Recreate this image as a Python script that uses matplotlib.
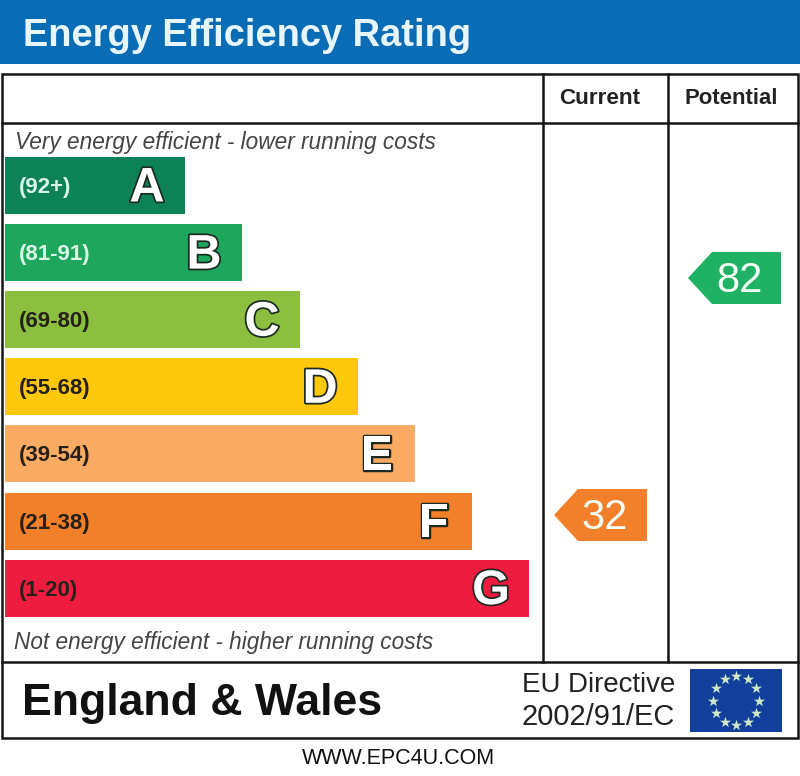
import numpy as np
import matplotlib
matplotlib.use("Agg")
import matplotlib.pyplot as plt
from matplotlib.patches import Polygon, Rectangle
import matplotlib.patheffects as pe

TITLE = "Energy Efficiency Rating"
BANDS = ["A", "B", "C", "D", "E", "F", "G"]
RANGES = ["(92+)", "(81-91)", "(69-80)", "(55-68)", "(39-54)", "(21-38)", "(1-20)"]
BAR_LENGTHS = [180, 237, 295, 353, 410, 467, 524]
BAR_COLORS = ["#0d8257", "#1da65c", "#8cbf3f", "#fdc70c", "#f9ab63", "#f2802a", "#ee1c3e"]
BADGES = [("Current", 32, "#f2802a"), ("Potential", 82, "#1fb265")]
TOP_NOTE = "Very energy efficient - lower running costs"
BOTTOM_NOTE = "Not energy efficient - higher running costs"
REGION = "England & Wales"
DIRECTIVE = ["EU Directive", "2002/91/EC"]
URL = "WWW.EPC4U.COM"

plt.rcParams["font.family"] = ["Liberation Sans", "DejaVu Sans"]
fig = plt.figure(figsize=(8, 7.76), dpi=100)
ax = fig.add_axes([0, 0, 1, 1])
ax.set_xlim(0, 800)
ax.set_ylim(776, 0)
ax.axis("off")

# header
ax.add_patch(Rectangle((0, 0), 800, 64, fc="#0a6cb5", ec="none"))
ax.text(23, 46, TITLE, color="#e6f6fb", fontsize=27.4, fontweight="bold", va="baseline", ha="left")

# frame
lc = "#151515"
lw = 1.8
ax.add_patch(Rectangle((2, 74), 796, 664, fc="none", ec=lc, lw=lw))
ax.plot([2, 798], [123, 123], color=lc, lw=lw)
ax.plot([2, 798], [662, 662], color=lc, lw=lw)
ax.plot([543, 543], [74, 662], color=lc, lw=lw)
ax.plot([668, 668], [74, 662], color=lc, lw=lw)

# column headers
ax.text(600, 99, BADGES[0][0], fontsize=16.2, fontweight="bold", color="#222222", ha="center", va="center")
ax.text(731, 99, BADGES[1][0], fontsize=15.9, fontweight="bold", color="#222222", ha="center", va="center")

# notes
ax.text(15, 142, TOP_NOTE, fontsize=16.3, style="italic", color="#444444", ha="left", va="center")
ax.text(14, 642, BOTTOM_NOTE, fontsize=16.3, style="italic", color="#444444", ha="left", va="center")

# bars
ys = 185.5 + 67.1 * np.arange(len(BANDS))
ax.barh(ys, BAR_LENGTHS, height=57, left=5, color=BAR_COLORS, edgecolor="none")
for y, length, band, rng, col in zip(ys, BAR_LENGTHS, BANDS, RANGES, BAR_COLORS):
    rc = "#d8f5e6" if band in "AB" else "#26201a"
    ax.text(19, y + 2, rng, fontsize=16, fontweight="bold", color=rc, ha="left", va="center")
    ax.text(5 + length - 38, y + 3.5, band, fontsize=35, fontweight="bold", color="white",
            ha="center", va="center",
            path_effects=[pe.withStroke(linewidth=2.5, foreground="#1c2a22")])

# badges
def badge(x_left, x_right, y, value, color):
    h = 26
    tip = 24
    ax.add_patch(Polygon([(x_left, y), (x_left + tip, y - h), (x_right, y - h),
                          (x_right, y + h), (x_left + tip, y + h)], closed=True, fc=color, ec="none"))
    ax.text((x_left + tip + x_right) / 2 - 7.5, y + 3, str(value), fontsize=30, color="#f4fff8",
            ha="center", va="center")

badge(554, 647, 515, BADGES[0][1], BADGES[0][2])
badge(688, 781, 278, BADGES[1][1], BADGES[1][2])

# footer
ax.text(22, 704, REGION, fontsize=32.1, fontweight="bold", color="#111111", ha="left", va="center")
ax.text(675, 685, DIRECTIVE[0], fontsize=19.9, color="#222222", ha="right", va="center")
ax.text(675, 717, DIRECTIVE[1], fontsize=20.9, color="#222222", ha="right", va="center")

# flag
ax.add_patch(Rectangle((690, 668.5), 91.5, 63.5, fc="#123f9c", ec="none"))
a = np.deg2rad(np.arange(12) * 30)
ax.scatter(736 + 23 * np.sin(a), 700.5 - 24.5 * np.cos(a), marker="*", s=70, c="#cfe8c8", linewidths=0)

# url
ax.text(398, 759, URL, fontsize=15.5, color="#111111", ha="center", va="center")

fig.savefig("out.png", dpi=100)
